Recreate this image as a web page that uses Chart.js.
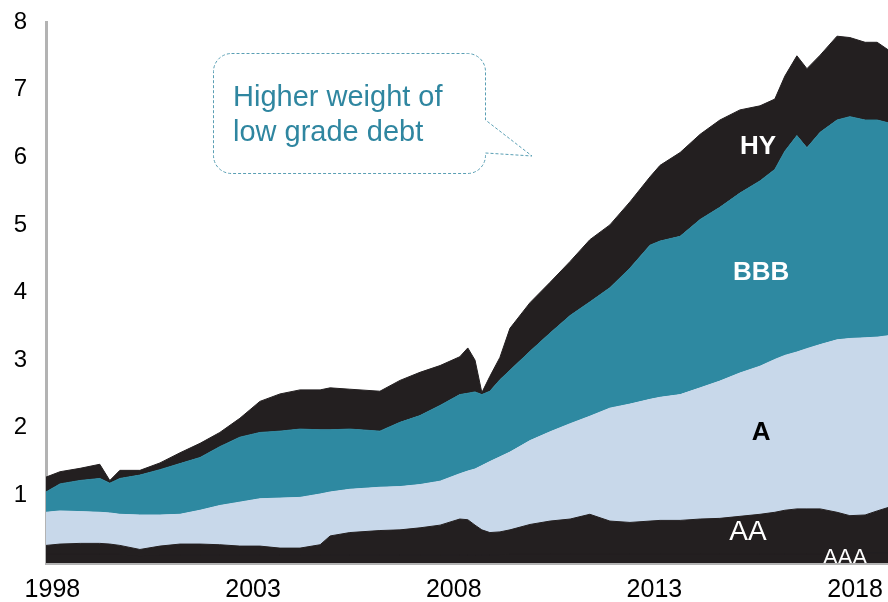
<!DOCTYPE html>
<html>
<head>
<meta charset="utf-8">
<script src="https://cdn.jsdelivr.net/npm/chart.js@4.4.1/dist/chart.umd.min.js"></script>
<style>
  html, body { margin: 0; padding: 0; background: #fff; }
  #wrap { width: 888px; height: 602px; position: relative; }
</style>
</head>
<body>
<div id="wrap"><canvas id="ratingsChart"></canvas></div>
<script>
// Outstanding debt by rating bucket, stacked (AAA at the bottom, HY on top)
const years = [1997.84, 1998.19, 1998.69, 1999.18, 1999.43, 1999.68, 2000.18, 2000.68, 2001.18, 2001.68,
  2002.17, 2002.67, 2003.17, 2003.67, 2004.17, 2004.67, 2004.92, 2005.41, 2006.16, 2006.66,
  2007.16, 2007.66, 2008.15, 2008.35, 2008.53, 2008.70, 2008.90, 2009.15, 2009.40, 2009.90,
  2010.40, 2010.90, 2011.39, 2011.89, 2012.39, 2012.89, 2013.14, 2013.64, 2014.14, 2014.63,
  2015.13, 2015.63, 2016.00, 2016.25, 2016.55, 2016.80, 2017.13, 2017.55, 2017.87, 2018.25,
  2018.55, 2018.82];

const aaa = [0.13, 0.13, 0.13, 0.13, 0.13, 0.13, 0.10, 0.12, 0.12, 0.12,
  0.12, 0.12, 0.12, 0.12, 0.12, 0.12, 0.12, 0.12, 0.12, 0.12,
  0.12, 0.12, 0.12, 0.12, 0.12, 0.12, 0.12, 0.12, 0.13, 0.13,
  0.13, 0.13, 0.13, 0.13, 0.13, 0.13, 0.13, 0.13, 0.13, 0.13,
  0.13, 0.13, 0.13, 0.13, 0.13, 0.13, 0.13, 0.13, 0.15, 0.15,
  0.15, 0.15];

const aa = [0.13, 0.15, 0.16, 0.16, 0.15, 0.13, 0.10, 0.13, 0.16, 0.16,
  0.15, 0.13, 0.13, 0.10, 0.10, 0.15, 0.28, 0.33, 0.36, 0.37,
  0.40, 0.44, 0.53, 0.52, 0.44, 0.37, 0.33, 0.34, 0.36, 0.44,
  0.49, 0.52, 0.59, 0.49, 0.47, 0.49, 0.50, 0.50, 0.52, 0.53,
  0.56, 0.59, 0.62, 0.65, 0.67, 0.67, 0.67, 0.62, 0.55, 0.56,
  0.62, 0.67];

const aRated = [0.49, 0.49, 0.47, 0.46, 0.46, 0.46, 0.51, 0.46, 0.44, 0.50,
  0.58, 0.65, 0.70, 0.74, 0.75, 0.75, 0.65, 0.64, 0.64, 0.64,
  0.64, 0.65, 0.67, 0.72, 0.83, 0.95, 1.05, 1.11, 1.15, 1.24,
  1.32, 1.41, 1.45, 1.67, 1.75, 1.80, 1.82, 1.86, 1.94, 2.03,
  2.12, 2.19, 2.26, 2.29, 2.32, 2.37, 2.43, 2.55, 2.62, 2.62,
  2.57, 2.54];

const bbb = [0.30, 0.40, 0.46, 0.50, 0.44, 0.53, 0.59, 0.67, 0.75, 0.78,
  0.87, 0.96, 0.98, 0.99, 1.01, 0.95, 0.92, 0.89, 0.83, 0.95,
  1.02, 1.12, 1.17, 1.15, 1.14, 1.05, 1.04, 1.14, 1.21, 1.32,
  1.46, 1.60, 1.69, 1.78, 2.01, 2.28, 2.31, 2.34, 2.49, 2.57,
  2.66, 2.74, 2.81, 3.02, 3.20, 2.97, 3.14, 3.25, 3.28, 3.22,
  3.21, 3.15];

const hy = [0.22, 0.18, 0.18, 0.21, 0.04, 0.12, 0.07, 0.10, 0.16, 0.21,
  0.21, 0.28, 0.46, 0.55, 0.58, 0.59, 0.62, 0.59, 0.59, 0.62,
  0.64, 0.59, 0.56, 0.67, 0.47, 0.03, 0.22, 0.33, 0.62, 0.72,
  0.75, 0.80, 0.92, 0.93, 0.98, 1.01, 1.12, 1.24, 1.26, 1.29,
  1.23, 1.11, 1.04, 1.11, 1.18, 1.17, 1.14, 1.24, 1.17, 1.15,
  1.15, 1.08];

const seriesNames = ['AAA', 'AA', 'A', 'BBB', 'HY'];
const tickYears = [1998, 2003, 2008, 2013, 2018];

const DARK = '#231f20';
const TEAL = '#2e89a1';
const PALE = '#c8d8ea';
const FONT = '"Liberation Sans", Arial, Helvetica, sans-serif';

Chart.defaults.font.family = FONT;
Chart.defaults.color = '#000';

function toPoints(values) {
  return values.map((v, i) => ({ x: years[i], y: v }));
}

// one filled band of the stack; the edge is stroked in the same colour so
// neighbouring fills meet without a light seam
function band(label, values, color, fill) {
  return {
    label,
    data: toPoints(values),
    backgroundColor: color,
    borderColor: color,
    borderWidth: 1,
    pointRadius: 0,
    tension: 0,
    fill
  };
}

// text sitting on top of each band, placed in data units
const bandText = [
  { text: 'HY',  x: 2015.58, y: 6.15, color: '#fff', font: 'bold 26px ' + FONT },
  { text: 'BBB', x: 2015.66, y: 4.29, color: '#fff', font: 'bold 26px ' + FONT },
  { text: 'A',   x: 2015.66, y: 1.92, color: '#000', font: 'bold 26px ' + FONT },
  { text: 'AA',  x: 2015.33, y: 0.46, color: '#fff', font: '28px ' + FONT },
  { text: 'AAA', x: 2017.75, y: 0.07, color: '#fff', font: '22px ' + FONT }
];

const bandLabels = {
  id: 'bandLabels',
  afterDatasetsDraw(chart) {
    const { ctx, chartArea, scales } = chart;
    ctx.save();
    ctx.beginPath();
    ctx.rect(chartArea.left, chartArea.top, chartArea.right - chartArea.left, chartArea.bottom - chartArea.top);
    ctx.clip();
    ctx.textAlign = 'center';
    ctx.textBaseline = 'middle';
    bandText.forEach(t => {
      ctx.font = t.font;
      ctx.fillStyle = t.color;
      ctx.fillText(t.text, scales.x.getPixelForValue(t.x), scales.y.getPixelForValue(t.y));
    });
    ctx.restore();
  }
};

// speech bubble with a dotted outline
const callout = {
  id: 'callout',
  afterDraw(chart) {
    const ctx = chart.ctx;
    const L = 213.5, T = 53.5, R = 485.5, B = 173.5, r = 18;
    ctx.save();
    ctx.beginPath();
    ctx.moveTo(L + r, T);
    ctx.lineTo(R - r, T);
    ctx.arcTo(R, T, R, T + r, r);
    ctx.lineTo(R, 120);
    ctx.lineTo(532, 156);
    ctx.lineTo(R, 153);
    ctx.lineTo(R, B - r);
    ctx.arcTo(R, B, R - r, B, r);
    ctx.lineTo(L + r, B);
    ctx.arcTo(L, B, L, B - r, r);
    ctx.lineTo(L, T + r);
    ctx.arcTo(L, T, L + r, T, r);
    ctx.closePath();
    ctx.fillStyle = '#fff';
    ctx.fill();
    ctx.setLineDash([3, 2]);
    ctx.lineWidth = 1;
    ctx.strokeStyle = '#5a9fb4';
    ctx.stroke();

    ctx.setLineDash([]);
    ctx.fillStyle = '#2f86a0';
    ctx.font = '29px ' + FONT;
    ctx.textAlign = 'left';
    ctx.textBaseline = 'middle';
    ctx.fillText('Higher weight of', 233, 98);
    ctx.fillText('low grade debt', 233, 133);
    ctx.restore();
  }
};

new Chart(document.getElementById('ratingsChart'), {
  type: 'line',
  data: {
    datasets: [
      band(seriesNames[0], aaa, DARK, 'origin'),
      // AA shares the AAA colour, so it is filled down to zero to avoid a seam
      band(seriesNames[1], aa, DARK, 'origin'),
      band(seriesNames[2], aRated, PALE, '-1'),
      band(seriesNames[3], bbb, TEAL, '-1'),
      band(seriesNames[4], hy, DARK, '-1')
    ]
  },
  options: {
    responsive: true,
    maintainAspectRatio: false,
    animation: false,
    layout: { padding: { top: 22, left: 0, right: 0, bottom: 0 } },
    plugins: {
      legend: { display: false },
      tooltip: { enabled: false }
    },
    scales: {
      x: {
        type: 'linear',
        min: 1997.84,
        max: 2018.82,
        afterBuildTicks: scale => { scale.ticks = tickYears.map(v => ({ value: v })); },
        afterFit: scale => {
          scale.height = 39;
          scale.paddingLeft = 0;
          scale.paddingRight = 0;
        },
        grid: { display: false, drawTicks: false },
        border: { display: true, color: '#b3b3b3', width: 3 },
        ticks: {
          padding: 12,
          maxRotation: 0,
          font: { size: 25 },
          color: '#000',
          callback: v => String(v)
        }
      },
      y: {
        stacked: true,
        min: 0,
        max: 8,
        afterFit: scale => {
          scale.width = 46;
          scale.paddingTop = 0;
          scale.paddingBottom = 0;
        },
        grid: { display: false, drawTicks: false },
        border: { display: true, color: '#b3b3b3', width: 3 },
        ticks: {
          stepSize: 1,
          padding: 19,
          font: { size: 24 },
          color: '#000',
          callback: v => (v === 0 ? '' : v)
        }
      }
    }
  },
  plugins: [bandLabels, callout]
});
</script>
</body>
</html>
